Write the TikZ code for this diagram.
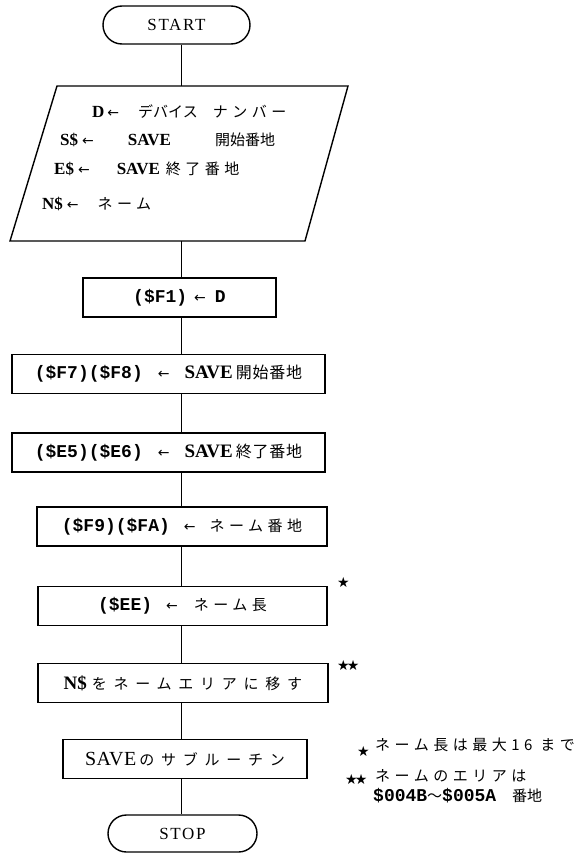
\documentclass[tikz,border=0pt]{standalone}
\usepackage{fontspec}
\setmainfont{Liberation Serif}
\newfontfamily\monof{Liberation Mono}
\newfontfamily\jpn{Noto Sans CJK JP}
\newfontfamily\jpw[LetterSpace=30]{Noto Sans CJK JP}
\newfontfamily\jpb[LetterSpace=5]{Noto Sans CJK JP}
\newfontfamily\symf{DejaVu Sans}
\usetikzlibrary{shapes.misc}
\newcommand\cmono{\monof\bfseries\fontsize{18}{20}\selectfont}
\newcommand\cjkn{\mdseries\jpn\fontsize{15}{18}\selectfont}
\newcommand\cjkw{\mdseries\jpw\fontsize{15}{18}\selectfont}
\newcommand\cjkb{\mdseries\jpb\fontsize{16}{18}\selectfont}
\newcommand\cser{\rmfamily\fontsize{19}{21}\selectfont}
\newcommand\pser{\rmfamily\bfseries\fontsize{17}{19}\selectfont}
\newcommand\myarr{{\mdseries\symf\fontsize{14}{15}\selectfont ←}}
\newcommand\mystar{{\symf\fontsize{14}{15}\selectfont ★}}
\begin{document}
\begin{tikzpicture}[x=1pt,y=-1pt,
  box/.style={draw, rectangle, line width=1.4pt, minimum height=39pt, inner sep=0pt},
  term/.style={draw, rounded rectangle, line width=1.4pt, minimum height=38pt, inner sep=0pt,
     font=\rmfamily\fontsize{17}{19}\selectfont\addfontfeatures{LetterSpace=10}},
  txt/.style={anchor=west, inner sep=0pt},
  conn/.style={line width=1pt}]
\useasboundingbox (0,0) rectangle (586,854);
\coordinate (spine) at (181,0);

% start
\node[term, minimum width=147pt] (start) at (176.5,25) {START};

% input parallelogram
\draw[line width=1.4pt] (57,86) -- (348,86) -- (305,241) -- (10,241) -- cycle;
\coordinate (iotop) at (181,86);
\coordinate (iobot) at (181,241);
\node[txt] (l1) at (92,112) {\pser D\hspace{3pt}\myarr\hspace{19pt}{\cjkn デバイス}\hspace{15pt}{\cjkw ナンバー}};
\node[txt] (l2) at (60,140) {\pser S\$\hspace{4pt}\myarr\hspace{34pt}SAVE\hspace{44pt}{\cjkn 開始番地}};
\node[txt] (l3) at (54,169) {\pser E\$\hspace{4pt}\myarr\hspace{27pt}SAVE\hspace{6pt}{\cjkw 終了番地}};
\node[txt] (l4) at (42,204) {\pser N\$\hspace{4pt}\myarr\hspace{19pt}{\cjkw ネーム}};

% process boxes
\node[box, minimum width=193pt] (f1) at (179.5,297.5)
  {{\cmono (\$F1)}\hspace{7pt}\myarr\hspace{9pt}{\cmono D}};
\node[box, minimum width=313pt] (f7) at (168.5,374)
  {{\cmono (\$F7)(\$F8)}\hspace{15pt}\myarr\hspace{15pt}{\cser\bfseries SAVE}\hspace{3pt}{\cjkb 開始番地}};
\node[box, minimum width=313pt] (e5) at (168.5,452.5)
  {{\cmono (\$E5)(\$E6)}\hspace{15pt}\myarr\hspace{15pt}{\cser\bfseries SAVE}\hspace{3pt}{\cjkb 終了番地}};
\node[box, minimum width=290pt] (f9) at (182,526.5)
  {{\cmono (\$F9)(\$FA)}\hspace{14pt}\myarr\hspace{14pt}{\cjkw ネーム番地}};
\node[box, minimum width=289pt] (ee) at (182.5,606)
  {{\cmono (\$EE)}\hspace{14pt}\myarr\hspace{16pt}{\cjkw ネーム長}};
\node[box, minimum width=290pt] (ns) at (183,683)
  {{\cser\bfseries N\$}\hspace{5pt}{\jpw\fontsize{15}{18}\selectfont\addfontfeatures{LetterSpace=45}をネームエリアに移す}};
\node[box, minimum width=244pt] (sv) at (185,759)
  {{\cser\fontsize{20}{22}\selectfont\addfontfeatures{LetterSpace=3}SAVE}\hspace{3pt}{\jpn\fontsize{15}{18}\selectfont\addfontfeatures{LetterSpace=45}のサブルーチン}};

% stop
\node[term, minimum width=149pt, minimum height=37pt] (stop) at (182.5,833.5) {STOP};

% stars on boxes
\node[txt] (st1) at (337,582) {\mystar};
\node[txt] (st2) at (337,665) {\mystar\hspace{-3pt}\mystar};

% notes
\node[txt] (n1s) at (357,751) {\mystar};
\node[txt] (n1) at (375,745) {\cjkw ネーム長は最大16 まで};
\node[txt] (n2s) at (345,779) {\mystar\hspace{-3pt}\mystar};
\node[txt] (n2) at (375,776) {\cjkw ネームのエリアは};
\node[txt] (n3) at (373,796) {{\cmono \$004B}{\cjkn 〜}{\cmono \$005A}\hspace{16pt}{\cjkn 番地}};

% connectors
\draw[conn] (spine |- start.south) -- (spine |- iotop);
\draw[conn] (spine |- iobot) -- (spine |- f1.north);
\draw[conn] (spine |- f1.south) -- (spine |- f7.north);
\draw[conn] (spine |- f7.south) -- (spine |- e5.north);
\draw[conn] (spine |- e5.south) -- (spine |- f9.north);
\draw[conn] (spine |- f9.south) -- (spine |- ee.north);
\draw[conn] (spine |- ee.south) -- (spine |- ns.north);
\draw[conn] (spine |- ns.south) -- (spine |- sv.north);
\draw[conn] (spine |- sv.south) -- (spine |- stop.north);
\end{tikzpicture}
\end{document}
